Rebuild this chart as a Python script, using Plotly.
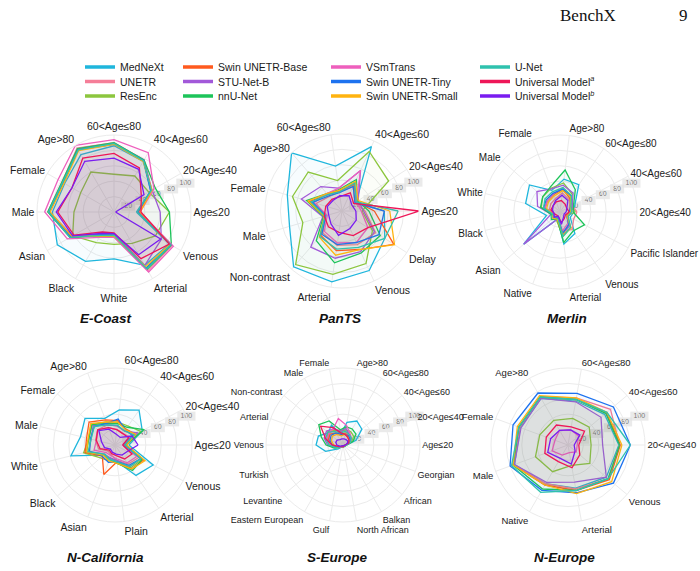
import plotly.graph_objects as go

# ---------------- data ----------------
models = ["MedNeXt", "UNETR", "ResEnc", "Swin UNETR-Base", "STU-Net-B", "nnU-Net",
          "VSmTrans", "Swin UNETR-Tiny", "Swin UNETR-Small", "U-Net",
          "Universal Model<sup><i>a</i></sup>", "Universal Model<sup><i>b</i></sup>"]
colors = ["#1fb6dc", "#f57e98", "#8cc63e", "#ff5a1e", "#a259d9", "#1dc45a",
          "#ee5fbd", "#1d72ef", "#ffb30f", "#2fc2ae", "#ee1658", "#7a1cf0"]

ecoast_cats = ["Age≤20", "20<Age≤40", "40<Age≤60", "60<Age≤80", "Age>80", "Female",
               "Male", "Asian", "Black", "White", "Arterial", "Venous"]
ecoast_vals = [
    [29, 55, 76, 86, 86, 74, 80, 85, 74, 61, 80, 83],
    [33, 56, 78, 90, 96, 78, 86, 66, 35, 30, 88, 87],
    [72, 52, 54, 49, 60, 50, 52, 62, 46, 42, 47, 62],
    [32, 56, 77, 89, 94, 76, 84, 64, 34, 29, 84, 85],
    [60, 57, 78, 89, 94, 77, 84, 62, 33, 28, 80, 71],
    [72, 62, 78, 90, 95, 78, 86, 66, 36, 32, 86, 86],
    [34, 60, 89, 94, 100, 84, 90, 70, 38, 33, 90, 89],
    [31, 55, 77, 88, 93, 76, 84, 65, 34, 30, 84, 85],
    [34, 57, 76, 88, 92, 75, 83, 63, 36, 31, 82, 84],
    [30, 56, 77, 89, 93, 77, 85, 66, 35, 30, 85, 85],
    [35, 41, 66, 76, 81, 63, 73, 60, 30, 27, 70, 83],
    [2, 45, 64, 70, 76, 63, 75, 62, 32, 28, 64, 70],
]

pants_cats = ["Age≤20", "20<Age≤40", "40<Age≤60", "60<Age≤80", "Age>80", "Female",
              "Male", "Non-contrast", "Arterial", "Venous", "Delay"]
pants_vals = [
    [55, 22, 92, 59, 100, 74, 71, 96, 93, 85, 66],
    [30, 20, 35, 25, 25, 35, 22, 38, 45, 48, 52],
    [26, 72, 85, 40, 67, 67, 53, 92, 83, 75, 47],
    [42, 22, 38, 26, 28, 44, 24, 42, 52, 55, 80],
    [28, 25, 58, 30, 42, 55, 26, 62, 62, 58, 50],
    [35, 24, 45, 28, 30, 48, 25, 51, 68, 60, 59],
    [25, 22, 58, 30, 30, 38, 20, 35, 42, 45, 40],
    [55, 20, 35, 24, 26, 40, 22, 40, 44, 45, 57],
    [62, 25, 42, 27, 30, 46, 24, 45, 58, 55, 81],
    [73, 22, 40, 25, 28, 42, 23, 44, 50, 52, 66],
    [100, 18, 26, 19, 20, 22, 24, 27, 28, 35, 40],
    [18, 15, 22, 20, 18, 20, 18, 22, 32, 25, 22],
]

merlin_cats = ["20<Age≤40", "40<Age≤60", "60<Age≤80", "Age>80", "Female", "Male",
               "White", "Black", "Asian", "Native", "Arterial", "Venous", "Pacific Islander"]
merlin_vals = [
    [18, 22, 43, 43, 30, 53, 46, 18, 63, 10, 42, 34, 15],
    [22, 18, 20, 25, 18, 16, 14, 10, 8, 8, 24, 28, 20],
    [20, 15, 28, 38, 33, 30, 25, 12, 10, 12, 32, 25, 10],
    [14, 16, 22, 30, 24, 22, 20, 8, 10, 8, 30, 20, 10],
    [15, 18, 30, 35, 32, 40, 30, 12, 63, 10, 28, 22, 12],
    [17, 20, 35, 55, 35, 30, 26, 12, 15, 10, 40, 30, 36],
    [12, 14, 25, 32, 25, 22, 20, 8, 10, 8, 25, 18, 10],
    [12, 15, 25, 30, 26, 24, 22, 10, 12, 8, 28, 20, 10],
    [14, 15, 24, 28, 22, 20, 18, 10, 12, 10, 30, 25, 10],
    [15, 16, 26, 32, 28, 26, 22, 10, 10, 8, 32, 24, 12],
    [12, 10, 12, 15, 14, 12, 12, 8, 6, 6, 14, 10, 8],
    [8, 10, 18, 22, 16, 12, 10, 8, 10, 6, 16, 8, 6],
]

ncal_cats = ["Age≤20", "20<Age≤40", "40<Age≤60", "60<Age≤80", "Age>80", "Female", "Male",
             "White", "Black", "Asian", "Plain", "Arterial", "Venous"]
ncal_vals = [
    [18, 40, 55, 46, 37, 52, 46, 59, 20, 18, 22, 48, 56],
    [12, 28, 22, 25, 28, 30, 26, 22, 12, 14, 20, 30, 35],
    [15, 38, 30, 30, 32, 40, 35, 42, 25, 22, 24, 36, 40],
    [14, 30, 25, 32, 35, 45, 38, 40, 22, 41, 22, 38, 42],
    [10, 34, 22, 25, 28, 38, 32, 35, 18, 18, 20, 34, 38],
    [14, 43, 28, 28, 30, 40, 35, 38, 20, 20, 24, 40, 40],
    [10, 22, 18, 20, 24, 30, 25, 28, 15, 15, 18, 28, 32],
    [12, 26, 24, 34, 30, 36, 33, 34, 22, 24, 22, 32, 38],
    [15, 30, 24, 30, 32, 42, 36, 38, 20, 22, 24, 38, 44],
    [12, 28, 22, 26, 28, 36, 32, 36, 18, 20, 22, 34, 38],
    [10, 20, 18, 20, 24, 30, 25, 20, 10, 12, 14, 22, 25],
    [30, 25, 12, 14, 22, 28, 18, 14, 8, 10, 12, 16, 18],
]

seur_cats = ["Age≤20", "20<Age≤40", "40<Age≤60", "60<Age≤80", "Age>80", "Female", "Male",
             "Non-contrast", "Arterial", "Venous", "Turkish", "Levantine", "Eastern European",
             "Gulf", "North African", "Balkan", "African", "Georgian"]
seur_vals = [
    [5, 18, 32, 36, 30, 15, 30, 25, 34, 35, 24, 8, 3, 2, 2, 2, 3, 3],
    [4, 10, 14, 16, 18, 20, 22, 24, 20, 15, 8, 4, 2, 2, 2, 2, 2, 2],
    [4, 12, 18, 20, 20, 18, 22, 26, 22, 18, 10, 5, 2, 2, 2, 2, 2, 3],
    [3, 8, 12, 14, 16, 14, 18, 22, 20, 16, 8, 4, 2, 2, 2, 2, 2, 2],
    [3, 10, 14, 16, 22, 18, 24, 28, 26, 20, 10, 4, 2, 2, 2, 2, 2, 2],
    [5, 14, 22, 24, 24, 20, 36, 41, 30, 22, 12, 5, 2, 2, 2, 2, 2, 3],
    [4, 10, 14, 18, 26, 35, 25, 24, 22, 16, 8, 4, 2, 2, 2, 2, 2, 2],
    [3, 8, 12, 14, 14, 14, 18, 20, 18, 14, 8, 3, 2, 2, 2, 2, 2, 2],
    [3, 8, 10, 12, 14, 12, 16, 18, 16, 12, 6, 3, 2, 2, 2, 2, 2, 2],
    [4, 10, 14, 16, 18, 16, 20, 26, 24, 18, 10, 4, 2, 2, 2, 2, 2, 2],
    [3, 8, 10, 12, 14, 16, 26, 38, 24, 14, 6, 3, 2, 2, 2, 2, 2, 2],
    [3, 6, 8, 8, 8, 8, 8, 10, 10, 8, 4, 2, 1, 1, 1, 1, 1, 2],
]

neur_cats = ["20<Age≤40", "40<Age≤60", "60<Age≤80", "Age>80", "Female", "Male",
             "Native", "Arterial", "Venous"]
neur_vals = [
    [66, 62, 58, 70, 66, 74, 58, 57, 65],
    [67, 72, 62, 72, 67, 75, 58, 58, 68],
    [30, 36, 35, 37, 39, 45, 40, 27, 37],
    [68, 65, 60, 72, 68, 76, 60, 60, 70],
    [45, 56, 57, 70, 65, 74, 56, 49, 65],
    [67, 64, 60, 72, 68, 76, 66, 60, 68],
    [12, 18, 20, 22, 18, 22, 15, 10, 14],
    [81, 77, 68, 78, 76, 80, 68, 63, 77],
    [70, 66, 62, 74, 70, 76, 60, 64, 74],
    [81, 66, 60, 72, 68, 78, 71, 60, 68],
    [14, 28, 24, 30, 30, 32, 25, 30, 20],
    [8, 20, 20, 22, 24, 28, 20, 25, 12],
]

panel_titles = ["E-Coast", "PanTS", "Merlin", "N-California", "S-Europe", "N-Europe"]
radial_ticks = [20, 40, 60, 80, 100]
radial_ticktext = ["20", "40", "60", "80", "100"]

# ---------------- layout constants ----------------
W, H = 700, 571
R = 77
centers = [(114, 212), (342, 211), (560, 212), (115, 445), (343, 445), (568, 445)]
label_sizes = [10.5, 10.5, 10, 10.5, 9, 9.5]
title_pos = [(106, 318), (340, 318), (567, 318), (105, 557), (337, 557), (564, 557)]
TICK_ANGLE = 22
GRID = "#ebebeb"
BOX = "#e2e2e2"
FONT = "Liberation Sans, Arial, sans-serif"

panels = [(ecoast_cats, ecoast_vals), (pants_cats, pants_vals), (merlin_cats, merlin_vals),
          (ncal_cats, ncal_vals), (seur_cats, seur_vals), (neur_cats, neur_vals)]


def rgba(hexc, a):
    h = hexc.lstrip("#")
    return "rgba(%d,%d,%d,%.3f)" % (int(h[0:2], 16), int(h[2:4], 16), int(h[4:6], 16), a)


fig = go.Figure()
layout = {}
annotations = []

for i, ((cx, cy), (cats, vals)) in enumerate(zip(centers, panels)):
    dom = dict(x=[(cx - R) / W, (cx + R) / W], y=[1 - (cy + R) / H, 1 - (cy - R) / H])
    tick_name = "polar" if i == 0 else "polar%d" % (i + 1)
    data_name = "polar%d" % (i + 7)
    layout[tick_name] = dict(
        domain=dom, bgcolor="white",
        radialaxis=dict(visible=False, range=[0, 100]),
        angularaxis=dict(visible=False, rotation=0, direction="counterclockwise",
                         type="linear", thetaunit="degrees"),
    )
    layout[data_name] = dict(
        domain=dom, bgcolor="rgba(0,0,0,0)",
        radialaxis=dict(range=[0, 100], tickvals=radial_ticks, showticklabels=False,
                        ticks="", showline=False, gridcolor=GRID, gridwidth=1),
        angularaxis=dict(rotation=0, direction="counterclockwise", gridcolor=GRID,
                         linecolor=GRID, showline=True, ticks="",
                         tickfont=dict(size=label_sizes[i], color="#1a1a1a", family=FONT)),
    )
    # radial tick label boxes (below the data)
    fig.add_trace(go.Scatterpolar(
        r=radial_ticks, theta=[TICK_ANGLE] * len(radial_ticks), mode="markers+text",
        text=radial_ticktext, textposition="middle center",
        textfont=dict(size=7, color="#7a7a7a", family=FONT),
        marker=dict(symbol="line-ew", size=[10, 10, 10, 10, 13], color=BOX,
                    line=dict(width=9, color=BOX)),
        subplot=tick_name, showlegend=False, hoverinfo="skip"))
    for j, m in enumerate(models):
        rv = list(vals[j]) + [vals[j][0]]
        th = list(cats) + [cats[0]]
        fig.add_trace(go.Scatterpolar(
            r=rv, theta=th, mode="lines", fill="toself",
            fillcolor=rgba(colors[j], 0.035),
            line=dict(color=colors[j], width=1.3),
            name=m, subplot=data_name, showlegend=False))
    tx, ty = title_pos[i]
    annotations.append(dict(
        text="<b><i>%s</i></b>" % panel_titles[i], x=tx / W, y=1 - ty / H,
        xref="paper", yref="paper", showarrow=False, xanchor="center", yanchor="middle",
        font=dict(size=13.5, color="#111", family=FONT)))

# legend: one legend per entry, column-major 4 x 3 grid
legend_text_x = [122, 220, 368, 517]
legend_row_y = [67, 81.5, 96]
for j, m in enumerate(models):
    lname = "legend" if j == 0 else "legend%d" % (j + 1)
    col, row = j // 3, j % 3
    fig.add_trace(go.Scatterpolar(
        r=[None], theta=[ecoast_cats[0]], mode="lines", name=m,
        line=dict(color=colors[j], width=3.5), subplot="polar7",
        showlegend=True, legend=lname, hoverinfo="skip"))
    layout[lname] = dict(
        x=(legend_text_x[col] - 42) / W, y=1 - legend_row_y[row] / H,
        xanchor="left", yanchor="middle", bgcolor="rgba(0,0,0,0)",
        borderwidth=0, font=dict(size=10.5, color="#1a1a1a", family=FONT),
        itemwidth=30)

annotations.append(dict(text="BenchX", x=588 / W, y=1 - 15 / H, xref="paper", yref="paper",
                        showarrow=False, xanchor="center", yanchor="middle",
                        font=dict(size=17, color="#111", family="Liberation Serif, serif")))
annotations.append(dict(text="9", x=683 / W, y=1 - 15 / H, xref="paper", yref="paper",
                        showarrow=False, xanchor="center", yanchor="middle",
                        font=dict(size=17, color="#111", family="Liberation Serif, serif")))

fig.update_layout(
    width=W, height=H, margin=dict(l=0, r=0, t=0, b=0),
    paper_bgcolor="white", plot_bgcolor="white",
    font=dict(family=FONT, color="#1a1a1a"),
    annotations=annotations, **layout)

fig.write_html("out.html", config={"displayModeBar": False})
